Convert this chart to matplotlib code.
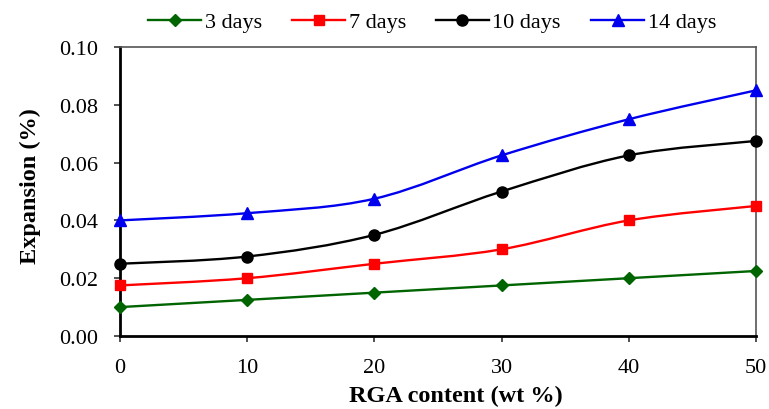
import matplotlib
matplotlib.use("Agg")
import matplotlib.pyplot as plt
import numpy as np
from matplotlib.path import Path
from matplotlib.patches import PathPatch
from matplotlib.lines import Line2D

plt.rcParams['font.family'] = ['Liberation Serif', 'DejaVu Serif']

x = [0, 10, 20, 30, 40, 50]
d3 = [0.010, 0.0125, 0.015, 0.0175, 0.020, 0.0225]
d7 = [0.0175, 0.020, 0.025, 0.030, 0.040, 0.045]
d10 = [0.025, 0.0275, 0.035, 0.050, 0.0625, 0.0675]
d14 = [0.040, 0.0425, 0.0475, 0.0625, 0.075, 0.085]
labels = ['3 days', '7 days', '10 days', '14 days']
colors = ['#006400', '#ff0000', '#000000', '#0000ee']
markers = ['D', 's', 'o', '^']
msizes = [6, 7, 8, 8]
series = [d3, d7, d10, d14]

fig = plt.figure(figsize=(7.69, 4.10), dpi=100)
ax = fig.add_axes([120/769, 73/410, 636/769, 289/410])


def smooth_path(xs, ys):
    pts = np.column_stack([xs, ys]).astype(float)
    n = len(pts)
    verts = [pts[0]]
    codes = [Path.MOVETO]
    for i in range(n - 1):
        p0 = pts[max(i - 1, 0)]
        p1 = pts[i]
        p2 = pts[i + 1]
        p3 = pts[min(i + 2, n - 1)]
        c1 = p1 + (p2 - p0) / 6.0
        c2 = p2 - (p3 - p1) / 6.0
        verts += [c1, c2, p2]
        codes += [Path.CURVE4] * 3
    return Path(verts, codes)


handles = []
for ys, lab, c, m, ms in zip(series, labels, colors, markers, msizes):
    patch = PathPatch(smooth_path(x, ys), facecolor='none', edgecolor=c, lw=1.7, zorder=2)
    ax.add_patch(patch)
    ax.plot(x, ys, linestyle='none', marker=m, color=c, markersize=ms, zorder=3, clip_on=False)
    handles.append(Line2D([], [], color=c, lw=1.7, marker=m, markersize=ms, label=lab))

ax.set_xlim(0, 50)
ax.set_ylim(0, 0.10)
ax.set_xticks(x)
ax.set_yticks([0, 0.02, 0.04, 0.06, 0.08, 0.10])
ax.set_yticklabels(['0.00', '0.02', '0.04', '0.06', '0.08', '0.10'])
ax.tick_params(axis='both', labelsize=16, length=4.5, width=1.2, color='#333333', direction='out')
ax.tick_params(axis='x', pad=11)
ax.tick_params(axis='y', pad=11)
for s in ['left', 'bottom']:
    ax.spines[s].set_linewidth(2.0)
    ax.spines[s].set_color('black')
for s in ['top', 'right']:
    ax.spines[s].set_linewidth(1.2)
    ax.spines[s].set_color('#555555')

ax.set_xlabel('RGA content (wt %)', fontsize=17.5, fontweight='bold')
ax.set_ylabel('Expansion (%)', fontsize=17.5, fontweight='bold')
ax.xaxis.set_label_coords(0.528, -0.17)
ax.yaxis.set_label_coords(-0.124, 0.522)

fig.legend(handles=handles, loc='center', bbox_to_anchor=(432/769, 1 - 23/410), ncol=4,
           frameon=False, fontsize=16, handlelength=2.4, columnspacing=1.35, handletextpad=0.15)

fig.savefig('out.png', dpi=100)
